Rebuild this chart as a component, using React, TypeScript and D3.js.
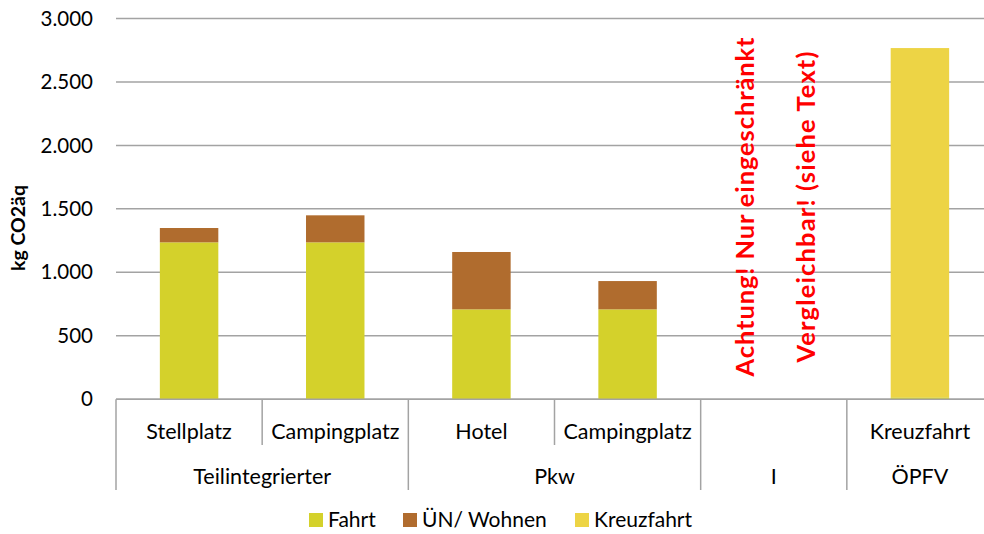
import React from "react";
import * as d3 from "d3";

const subcats = ["Stellplatz", "Campingplatz", "Hotel", "Campingplatz", "", "Kreuzfahrt"];
const groups = ["Teilintegrierter", "Pkw", "I", "ÖPFV"];
const groupSpans = [2, 2, 1, 1];
const fahrt = [1236, 1236, 708, 708, 0, 15];
const wohnen = [113, 213, 452, 223, 0, 0];
const kreuz = [0, 0, 0, 0, 0, 2752];
const yTicks = [0, 500, 1000, 1500, 2000, 2500, 3000];
const seriesNames = ["Fahrt", "ÜN/ Wohnen", "Kreuzfahrt"];
const colors = ["#D4D12B", "#B06C2E", "#EDD445"];
const note1 = "Achtung! Nur eingeschränkt";
const note2 = "Vergleichbar! (siehe Text)";

const W = 984, H = 534;
const FONT = "Lato, 'Open Sans', sans-serif";

export default function App() {
  const x = d3.scaleBand<number>().domain(d3.range(subcats.length)).range([116, 993]).paddingInner(0.6).paddingOuter(0.3);
  const y = d3.scaleLinear().domain([0, 3000]).range([399.2, 18.5]);
  const step = x.step();
  const left = 116;
  const fmt = (v: number) => d3.format(",")(v).replace(/,/g, ".");

  const rows = subcats.map((_, i) => [fahrt[i], wohnen[i], kreuz[i]]);
  const stack = d3.stack<number[]>().keys(["0", "1", "2"] as any).value((d: any, k: any) => d[+k])(rows as any);

  const bounds: number[] = [0];
  groupSpans.forEach((s) => bounds.push(bounds[bounds.length - 1] + s));

  const legendItems = [
    { sq: 309, tx: 328 },
    { sq: 403, tx: 422 },
    { sq: 575, tx: 594 },
  ];

  return (
    <svg width={W} height={H} style={{ position: "absolute", left: 0, top: 0, background: "#fff" }}>
      {yTicks.map((t) => (
        <g key={t}>
          <line x1={left} x2={W} y1={y(t)} y2={y(t)} stroke="#A3A3A3" strokeWidth={1.5} />
          <text x={93} y={y(t)} dy="0.35em" textAnchor="end" fontFamily={FONT} fontSize={20.5} fill="#000">
            {fmt(t)}
          </text>
        </g>
      ))}
      <text transform={`translate(18,228) rotate(-90)`} dy="0.35em" textAnchor="middle" fontFamily={FONT} fontWeight="bold" fontSize={19.5} fill="#000">
        kg CO2äq
      </text>
      {stack.map((s, si) =>
        s.map((d, i) =>
          d[1] - d[0] > 0 ? (
            <rect key={`${si}-${i}`} x={x(i)} width={x.bandwidth()} y={y(d[1])} height={y(d[0]) - y(d[1])} fill={colors[si]} />
          ) : null
        )
      )}
      {subcats.map((c, i) => (
        <g key={i}>
          <line x1={left + i * step} x2={left + i * step} y1={y(0)} y2={bounds.includes(i) ? 490 : 445} stroke="#A3A3A3" strokeWidth={1.5} />
          <text x={(x(i) as number) + x.bandwidth() / 2} y={431} dy="0.35em" textAnchor="middle" fontFamily={FONT} fontSize={21.5} fill="#000">
            {c}
          </text>
        </g>
      ))}
      {groups.map((g, gi) => (
        <text key={g} x={left + ((bounds[gi] + bounds[gi + 1]) / 2) * step} y={476} dy="0.35em" textAnchor="middle" fontFamily={FONT} fontSize={21.5} fill="#000">
          {g}
        </text>
      ))}
      <line x1={left} x2={W} y1={y(0)} y2={y(0)} stroke="#A3A3A3" strokeWidth={1.5} />
      <text transform={`translate(745,207) rotate(-90)`} dy="0.35em" textAnchor="middle" fontFamily={FONT} fontWeight="bold" fontSize={25.5} textLength={339} lengthAdjust="spacing" fill="#FF0000">
        {note1}
      </text>
      <text transform={`translate(806,207) rotate(-90)`} dy="0.35em" textAnchor="middle" fontFamily={FONT} fontWeight="bold" fontSize={25.5} textLength={311} lengthAdjust="spacing" fill="#FF0000">
        {note2}
      </text>
      {seriesNames.map((n, i) => (
        <g key={n}>
          <rect x={legendItems[i].sq} y={513} width={14} height={14} fill={colors[i]} />
          <text x={legendItems[i].tx} y={520} dy="0.35em" fontFamily={FONT} fontSize={21} fill="#000">
            {n}
          </text>
        </g>
      ))}
    </svg>
  );
}
